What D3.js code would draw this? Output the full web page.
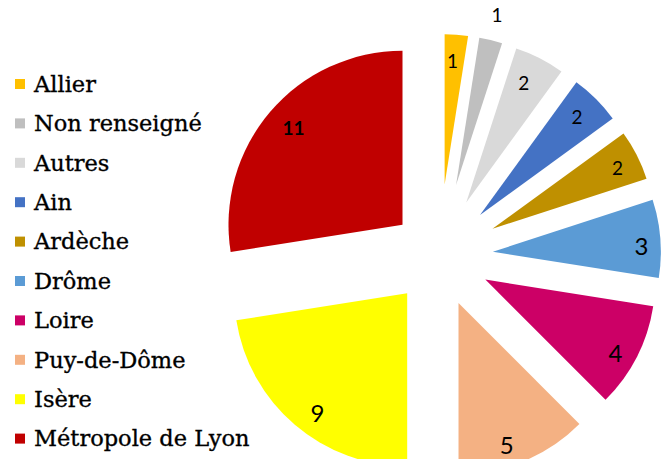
<!DOCTYPE html>
<html>
<head>
<meta charset="utf-8">
<script src="https://cdn.jsdelivr.net/npm/d3@7"></script>
<style>
  html, body { margin: 0; padding: 0; background: #fff; }
  svg { display: block; }
</style>
</head>
<body>
<svg id="chart" width="670" height="459"></svg>
<script>
// Répartition par département
const categories = ["Allier", "Non renseigné", "Autres", "Ain", "Ardèche", "Drôme", "Loire", "Puy-de-Dôme", "Isère", "Métropole de Lyon"];
const values = [1, 1, 2, 2, 2, 3, 4, 5, 9, 11];
const colors = ["#FFC000", "#BFBFBF", "#D9D9D9", "#4472C4", "#BF9000", "#5B9BD5", "#CC0066", "#F4B183", "#FFFF00", "#C00000"];
// Per-slice explosion distance (px) from the pie centre
const explode = [72, 73, 60, 58, 60, 54, 52, 51, 49, 48];
// Data-label styling: font size, weight, and small position nudges [dx, dy]
const labelSize = [19, 19, 19, 19, 19, 24, 24, 24, 24, 19];
const labelBold = [false, false, false, false, false, false, false, false, false, true];
const labelNudge = [[-2, 3], [0, 0], [-5, 4], [-2, 1], [2, 2], [5, 6], [0, 7], [-8, 6], [7, 7], [5, 1]];

const svg = d3.select("#chart");
const cx = 439, cy = 256, outer = 222;

const pie = d3.pie().sort(null).value(d => d.value).startAngle(0).endAngle(2 * Math.PI);
const rows = categories.map((c, i) => ({
  name: c, value: values[i], color: colors[i], ex: explode[i],
  size: labelSize[i], bold: labelBold[i], nudge: labelNudge[i]
}));
const arcs = pie(rows);

const g = svg.append("g").attr("transform", `translate(${cx},${cy})`);

const slice = g.selectAll("g.slice").data(arcs).join("g")
  .attr("class", "slice")
  .attr("transform", d => {
    const mid = (d.startAngle + d.endAngle) / 2;
    return `translate(${Math.sin(mid) * d.data.ex},${-Math.cos(mid) * d.data.ex})`;
  });

slice.append("path")
  .attr("d", d => d3.arc().innerRadius(0).outerRadius(outer - d.data.ex)(d))
  .attr("fill", d => d.data.color);

// Data labels: inside near the rim, except the small grey slice whose label sits outside
slice.append("text")
  .attr("transform", d => {
    const mid = (d.startAngle + d.endAngle) / 2;
    const r = outer - d.data.ex;
    const dist = d.data.name === "Non renseigné" ? r + 26 : r - 24;
    const x = Math.sin(mid) * dist + d.data.nudge[0];
    const y = -Math.cos(mid) * dist + d.data.nudge[1];
    return `translate(${x},${y})`;
  })
  .attr("text-anchor", "middle")
  .attr("dy", "0.36em")
  .attr("font-family", "Lato, 'Open Sans', sans-serif")
  .attr("font-size", d => d.data.size)
  .attr("font-weight", d => d.data.bold ? "bold" : "normal")
  .attr("fill", "#000")
  .text(d => d.data.value);

// Legend
const legend = svg.append("g").attr("transform", "translate(15,84)");
const item = legend.selectAll("g").data(rows).join("g")
  .attr("transform", (d, i) => `translate(0,${i * 39.4})`);
item.append("rect")
  .attr("x", 0).attr("y", -5).attr("width", 10).attr("height", 10)
  .attr("fill", d => d.color);
item.append("text")
  .attr("x", 19).attr("dy", "0.35em")
  .attr("font-family", "'DejaVu Serif', serif")
  .attr("font-size", 22.5)
  .attr("fill", "#000")
  .attr("stroke", "#000")
  .attr("stroke-width", 0.35)
  .text(d => d.name);
</script>
</body>
</html>
